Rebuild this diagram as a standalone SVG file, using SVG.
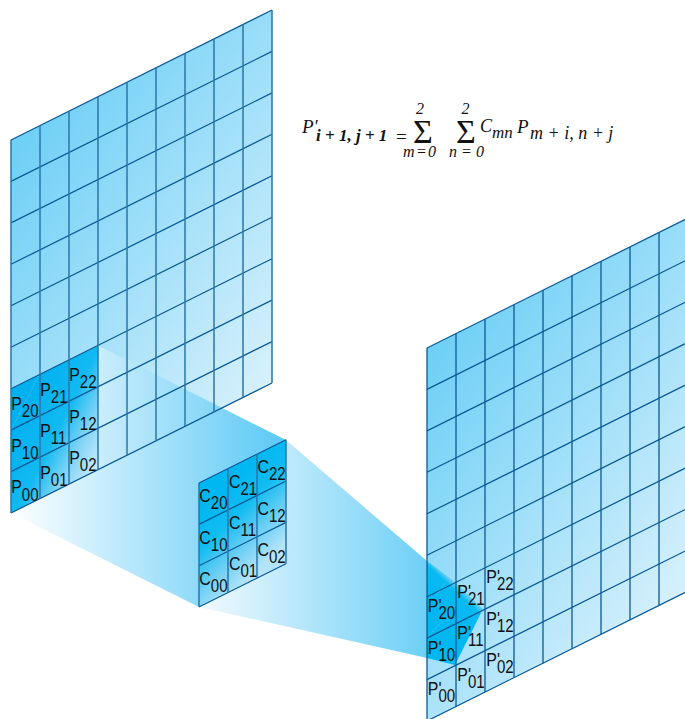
<svg xmlns="http://www.w3.org/2000/svg" width="685" height="719" viewBox="0 0 685 719">
<style>
.h{fill:none;stroke:#0b5a96;stroke-width:1.25}
.v{fill:none;stroke:#2a77ab;stroke-width:1.5}
.vd{fill:none;stroke:#0b5a96;stroke-width:1.3}
.l{font-family:"Liberation Sans",Arial,sans-serif;font-size:18.5px;fill:#111}
.l tspan{font-size:17.5px}
.f{font-family:"Liberation Serif","Times New Roman",serif;fill:#111;font-style:italic}
.n{font-style:normal}
.b{font-weight:bold}
.seam{fill:none;stroke:#fff;stroke-width:.6;stroke-dasharray:1 1;opacity:.5}
</style>
<defs>
<linearGradient id="gL" gradientUnits="userSpaceOnUse" x1="11" y1="140" x2="350" y2="368"><stop offset="0" stop-color="#6dcff6"/><stop offset="1" stop-color="#e8f6fd"/></linearGradient>
<linearGradient id="gR" gradientUnits="userSpaceOnUse" x1="427" y1="348" x2="766" y2="576"><stop offset="0" stop-color="#6dcff6"/><stop offset="1" stop-color="#e8f6fd"/></linearGradient>
<linearGradient id="gB1" gradientUnits="userSpaceOnUse" x1="11" y1="0" x2="286" y2="0"><stop offset="0" stop-color="#fff"/><stop offset="1" stop-color="#5ac8f5"/></linearGradient>
<linearGradient id="gB2" gradientUnits="userSpaceOnUse" x1="199" y1="0" x2="430" y2="0"><stop offset="0" stop-color="#f2fafe"/><stop offset="1" stop-color="#6ccff6"/></linearGradient>
<linearGradient id="gP" gradientUnits="userSpaceOnUse" x1="25" y1="400" x2="110" y2="442"><stop offset="0" stop-color="#00b0ef"/><stop offset=".45" stop-color="#12baf1"/><stop offset=".72" stop-color="#7fd3f6"/><stop offset="1" stop-color="#c8ebfb"/></linearGradient>
<linearGradient id="gC" gradientUnits="userSpaceOnUse" x1="213" y1="495" x2="273" y2="555"><stop offset="0" stop-color="#00b7f1"/><stop offset=".35" stop-color="#10bcf1"/><stop offset=".65" stop-color="#62ccf4"/><stop offset="1" stop-color="#b4e4f9"/></linearGradient>
<linearGradient id="gT" gradientUnits="userSpaceOnUse" x1="450" y1="622" x2="475" y2="595"><stop offset="0" stop-color="#00b7f1"/><stop offset=".72" stop-color="#0abaf1"/><stop offset=".95" stop-color="#a0dcf7"/></linearGradient>
<path id="gh" d="M11 140L272 10M11 181.4L272 51.4M11 222.9L272 92.9M11 264.3L272 134.3M11 305.8L272 175.8M11 347.2L272 217.2M11 388.7L272 258.7M11 430.1L272 300.1M11 471.6L272 341.6M11 513L272 383"/>
<path id="gv" d="M11 140V513M40 125.6V498.6M69 111.1V484.1M98 96.7V469.7M127 82.2V455.2M156 67.8V440.8M185 53.3V426.3M214 38.9V411.9M243 24.4V397.4M272 10V383"/>
</defs>

<g id="input-image">
<polygon points="11,140 272,10 272,383 11,513" fill="url(#gL)"/>
</g>
<g id="output-image">
<polygon points="427,348 688,218 688,591 427,721" fill="url(#gR)"/>
</g>

<g id="projection">
<polygon points="98,345.4 286,440 199,607 11,513" fill="url(#gB1)"/>
<polygon points="286,440 427,561 427,658 199,607" fill="url(#gB2)"/>
<polygon points="427,561 455,582 483,609 455,665 427,658" fill="url(#gT)"/>
<polygon points="11,388.7 98,345.4 98,469.7 11,513" fill="url(#gP)"/>
<path class="seam" d="M11.7 429L39 375M427 638L443 620M437 595L445 583"/>
</g>

<g id="input-grid">
<use href="#gh" class="h"/>
<use href="#gv" class="v"/>
</g>
<g id="output-grid" transform="translate(416 208)">
<use href="#gh" class="h"/>
<use href="#gv" class="vd"/>
</g>

<g id="kernel">
<polygon points="199,483 286,439.7 286,563.7 199,607" fill="url(#gC)"/>
<path class="h" d="M199 483L286 439.7M199 524.4L286 481M199 565.8L286 522.4M199 607L286 563.7"/>
<path class="v" d="M199 483V607M228 468.6V592.6M257 454.2V578.2M286 439.7V563.7"/>
</g>

<g id="input-labels">
<text class="l" transform="translate(11.2 493) scale(.86 1)">P<tspan dy="7.5">00</tspan></text>
<text class="l" transform="translate(40.2 478.5) scale(.86 1)">P<tspan dy="7">01</tspan></text>
<text class="l" transform="translate(69.2 464) scale(.86 1)">P<tspan dy="7">02</tspan></text>
<text class="l" transform="translate(11.2 451.7) scale(.86 1)">P<tspan dy="7.5">10</tspan></text>
<text class="l" transform="translate(40.2 437.2) scale(.86 1)">P<tspan dy="7">11</tspan></text>
<text class="l" transform="translate(69.2 422.7) scale(.86 1)">P<tspan dy="7">12</tspan></text>
<text class="l" transform="translate(11.2 410.4) scale(.86 1)">P<tspan dy="7">20</tspan></text>
<text class="l" transform="translate(40.2 395.9) scale(.86 1)">P<tspan dy="7">21</tspan></text>
<text class="l" transform="translate(69.2 381.4) scale(.86 1)">P<tspan dy="7">22</tspan></text>
</g>
<g id="kernel-labels">
<text class="l" transform="translate(199.3 585) scale(.86 1)">C<tspan dy="7">00</tspan></text>
<text class="l" transform="translate(229 570.4) scale(.86 1)">C<tspan dy="7">01</tspan></text>
<text class="l" transform="translate(257.5 555.8) scale(.86 1)">C<tspan dy="7">02</tspan></text>
<text class="l" transform="translate(199.3 543.7) scale(.86 1)">C<tspan dy="7">10</tspan></text>
<text class="l" transform="translate(229 529) scale(.86 1)">C<tspan dy="7">11</tspan></text>
<text class="l" transform="translate(257.5 514.5) scale(.86 1)">C<tspan dy="7">12</tspan></text>
<text class="l" transform="translate(199.3 502.4) scale(.86 1)">C<tspan dy="7">20</tspan></text>
<text class="l" transform="translate(229 487.8) scale(.86 1)">C<tspan dy="7">21</tspan></text>
<text class="l" transform="translate(257.5 473.2) scale(.86 1)">C<tspan dy="7">22</tspan></text>
</g>
<g id="output-labels">
<text class="l" transform="translate(427.8 695) scale(.86 1)">P'<tspan dy="7" dx="-3.5">00</tspan></text>
<text class="l" transform="translate(457.3 680.5) scale(.86 1)">P'<tspan dy="7" dx="-3.5">01</tspan></text>
<text class="l" transform="translate(486.3 666) scale(.86 1)">P'<tspan dy="7" dx="-3.5">02</tspan></text>
<text class="l" transform="translate(427.8 653.7) scale(.86 1)">P'<tspan dy="7" dx="-3.5">10</tspan></text>
<text class="l" transform="translate(457.3 639.2) scale(.86 1)">P'<tspan dy="7" dx="-3.5">11</tspan></text>
<text class="l" transform="translate(486.3 624.7) scale(.86 1)">P'<tspan dy="7" dx="-3.5">12</tspan></text>
<text class="l" transform="translate(427.8 612.4) scale(.86 1)">P'<tspan dy="7" dx="-3.5">20</tspan></text>
<text class="l" transform="translate(457.3 597.9) scale(.86 1)">P'<tspan dy="7" dx="-3.5">21</tspan></text>
<text class="l" transform="translate(486.3 583.4) scale(.86 1)">P'<tspan dy="7" dx="-3.5">22</tspan></text>
</g>

<g id="formula">
<text class="f" x="302" y="133" font-size="19">P'</text>
<text class="f b" x="316" y="141" font-size="17">i + 1, j + 1</text>
<text class="f n" x="396" y="143" font-size="19">=</text>
<text class="f n" x="413" y="143" font-size="34">Σ</text>
<text class="f n" x="456" y="143" font-size="34">Σ</text>
<text class="f" x="416" y="114" font-size="16">2</text>
<text class="f" x="461.5" y="114" font-size="16">2</text>
<text class="f" x="403" y="157" font-size="16" textLength="33" lengthAdjust="spacing">m = 0</text>
<text class="f" x="449" y="157" font-size="16" textLength="35" lengthAdjust="spacing">n = 0</text>
<text class="f" x="480" y="132" font-size="18">C</text>
<text class="f" x="492" y="138" font-size="17">mn</text>
<text class="f" x="517" y="133" font-size="19">P</text>
<text class="f" x="530" y="139" font-size="18">m + i, n + j</text>
</g>
</svg>
